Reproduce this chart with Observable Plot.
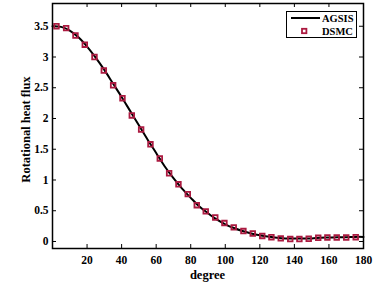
<!DOCTYPE html>
<html><head><meta charset="utf-8">
<script src="https://cdn.jsdelivr.net/npm/d3@7"></script>
<script src="https://cdn.jsdelivr.net/npm/@observablehq/plot@0.6"></script>
<style>body{margin:0;background:#fff;} svg{display:block;}</style>
</head><body><div id="chart"></div>
<script>
const dsmcDegree = [2.3,7.9,13.3,18.7,24.3,29.7,35.1,40.5,45.9,51.3,56.7,62.1,67.5,72.9,78.3,83.5,88.7,94.2,99.5,104.9,110.5,115.9,121.4,126.7,132.1,137.6,142.9,148.3,153.8,159.1,164.5,170.0,175.5];
const dsmcFlux = [3.50,3.47,3.35,3.20,3.00,2.78,2.54,2.33,2.05,1.82,1.58,1.35,1.11,0.93,0.77,0.59,0.49,0.39,0.30,0.23,0.17,0.13,0.09,0.07,0.05,0.04,0.04,0.045,0.06,0.065,0.065,0.065,0.07];
const agsisDegree = [0,5,10,15,20,25,30,35,40,45,50,55,60,65,70,75,80,85,90,95,100,105,110,115,120,125,130,135,140,145,150,155,160,165,170,175,180];
const agsisFlux = [3.50,3.49,3.43,3.32,3.17,2.99,2.79,2.57,2.35,2.12,1.89,1.66,1.44,1.22,1.03,0.86,0.71,0.57,0.46,0.36,0.28,0.22,0.17,0.13,0.10,0.08,0.06,0.05,0.05,0.05,0.05,0.06,0.065,0.07,0.07,0.075,0.075];
const xTicks = [20,40,60,80,100,120,140,160,180];
const yTicks = [0,0.5,1,1.5,2,2.5,3,3.5];
const yTickLabels = ["0","0.5","1","1.5","2","2.5","3","3.5"];
const seriesNames = ["AGSIS","DSMC"];
const xTitle = "degree", yTitle = "Rotational heat flux";

const W = 383, H = 283, mL = 52, mR = 20, mT = 3, mB = 35;
const plotH = H - mT - mB, plotW = W - mL - mR, tickLen = 4;
const red = "#ab1a40";
const font = "'Liberation Serif', 'Times New Roman', serif";

const agsis = agsisDegree.map((d,i)=>({degree:d, flux:agsisFlux[i]}));
const dsmc = dsmcDegree.map((d,i)=>({degree:d, flux:dsmcFlux[i]}));

const svg = Plot.plot({
  width: W, height: H,
  marginLeft: mL, marginRight: mR, marginTop: mT, marginBottom: mB,
  x: {domain: [0,180]},
  y: {domain: [-0.114, 3.87]},
  style: {fontFamily: font, fontWeight: "bold", fontSize: "11.5px", color: "#000", background: "#fff"},
  marks: [
    Plot.axisX(xTicks, {tickSize: 0, tickPadding: 7, label: null, fontWeight: "bold", fontSize: 11.5}),
    Plot.axisY(yTicks, {tickSize: 0, tickPadding: 4, label: null, tickFormat: (d)=>yTickLabels[yTicks.indexOf(d)], fontWeight: "bold", fontSize: 11.5}),
    Plot.tickX(xTicks.slice(0,-1), {x: d=>d, insetTop: plotH - tickLen, stroke: "#000", strokeWidth: 1}),
    Plot.tickX(xTicks.slice(0,-1), {x: d=>d, insetBottom: plotH - tickLen, stroke: "#000", strokeWidth: 1}),
    Plot.tickY(yTicks, {y: d=>d, insetRight: plotW - tickLen, stroke: "#000", strokeWidth: 1}),
    Plot.tickY(yTicks, {y: d=>d, insetLeft: plotW - tickLen, stroke: "#000", strokeWidth: 1}),
    Plot.line(agsis, {x: "degree", y: "flux", stroke: "#000", strokeWidth: 2, curve: "catmull-rom"}),
    Plot.dot(dsmc, {x: "degree", y: "flux", symbol: "square", r: 2.6, stroke: red, strokeWidth: 1.8, fill: "none"}),
    Plot.frame({stroke: "#000", strokeWidth: 1.5})
  ]
});
document.getElementById("chart").appendChild(svg);

const root = d3.select(svg);
// axis titles
root.append("text").attr("x", mL + plotW/2).attr("y", 275).attr("dy", "0.35em")
  .attr("text-anchor", "middle").attr("font-family", font).attr("font-weight", "bold")
  .attr("font-size", 12.5).text(xTitle);
root.append("text").attr("transform", `translate(26,${mT + plotH/2 + 4}) rotate(-90)`).attr("dy", "0.35em")
  .attr("text-anchor", "middle").attr("font-family", font).attr("font-weight", "bold")
  .attr("font-size", 12.5).text(yTitle);

// legend box (top-right, inside plot)
const g = root.append("g").attr("font-family", font).attr("font-weight", "bold")
  .attr("font-size", 10.5).attr("text-anchor", "start");
g.append("rect").attr("x", 286.5).attr("y", 11.5).attr("width", 70).attr("height", 26)
  .attr("fill", "#fff").attr("stroke", "#000").attr("stroke-width", 1);
g.append("line").attr("x1", 291).attr("x2", 320).attr("y1", 18).attr("y2", 18).attr("stroke", "#000").attr("stroke-width", 2);
g.append("rect").attr("x", 302).attr("y", 28.8).attr("width", 4.4).attr("height", 4.4)
  .attr("fill", "none").attr("stroke", red).attr("stroke-width", 1.8);
g.append("text").attr("x", 322).attr("y", 18).attr("dy", "0.35em").attr("text-anchor", "start").text(seriesNames[0]);
g.append("text").attr("x", 322).attr("y", 31).attr("dy", "0.35em").attr("text-anchor", "start").text(seriesNames[1]);
</script></body></html>
